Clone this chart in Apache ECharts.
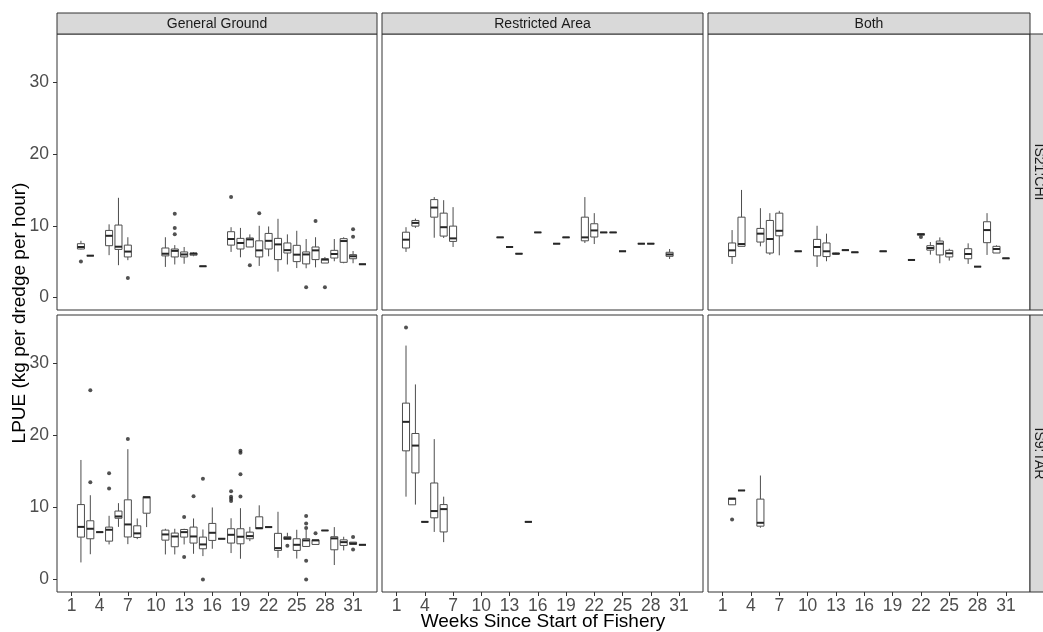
<!DOCTYPE html>
<html>
<head>
<meta charset="utf-8">
<script src="https://cdn.jsdelivr.net/npm/echarts@6/dist/echarts.min.js"></script>
<style>
  html, body { margin: 0; padding: 0; background: #fff; }
  #chart { width: 1043px; height: 632px; }
</style>
</head>
<body>
<div id="chart"></div>
<script>
const FONT = "'Liberation Sans', Arial, sans-serif";

// axis ticks / facet labels
const weekTicks = [1, 4, 7, 10, 13, 16, 19, 22, 25, 28, 31];
const lpueTicks = [0, 10, 20, 30];
const areas = ["General Ground", "Restricted Area", "Both"];
const beds = ["IS21:CHI", "IS9:TAR"];

// boxes: [week, min, Q1, median, Q3, max]  (LPUE, kg per dredge per hour)
const chiGeneral = [
  [2, 6.7, 6.76, 7.04, 7.5, 7.9], [3, 5.83, 5.83, 5.83, 5.83, 5.83],
  [5, 5.9, 7.22, 8.6, 9.35, 10.2], [6, 4.5, 6.7, 7.08, 10.1, 13.9],
  [7, 5.2, 5.65, 6.4, 7.3, 8.4], [11, 4.26, 5.8, 6.1, 6.9, 8.4],
  [12, 4.6, 5.65, 6.5, 6.76, 7.3], [13, 4.7, 5.65, 6.0, 6.35, 7.04],
  [14, 5.75, 5.9, 6.1, 6.2, 6.3], [15, 4.35, 4.35, 4.35, 4.35, 4.35],
  [18, 6.35, 7.3, 8.15, 9.17, 9.8], [19, 5.6, 6.76, 7.6, 8.24, 9.7],
  [20, 7.04, 7.04, 8.1, 8.3, 8.8], [21, 4.4, 5.65, 6.57, 7.9, 10.0],
  [22, 5.74, 6.76, 7.9, 8.93, 9.9], [23, 3.6, 5.28, 7.4, 8.24, 10.97],
  [24, 4.6, 6.2, 6.6, 7.6, 8.8], [25, 4.1, 5.0, 5.97, 7.27, 9.3],
  [26, 4.07, 4.68, 6.0, 6.35, 8.15], [27, 4.2, 5.28, 6.57, 7.04, 8.4],
  [28, 4.8, 4.8, 5.28, 5.4, 5.65], [29, 5.05, 5.5, 6.06, 6.57, 8.15],
  [30, 4.77, 4.9, 7.87, 8.2, 8.4], [31, 4.77, 5.4, 5.74, 5.97, 6.48],
  [32, 4.63, 4.63, 4.63, 4.63, 4.63]
];
const chiGeneralOut = [
  [2, 5.0], [7, 2.7], [12, 11.67], [12, 9.7], [12, 8.8], [18, 14.0], [20, 4.5],
  [21, 11.76], [26, 1.43], [27, 10.65], [28, 1.43], [31, 9.5], [31, 8.47]
];

const chiRestricted = [
  [2, 6.35, 6.9, 8.06, 9.1, 9.8], [3, 9.7, 9.95, 10.4, 10.74, 11.0],
  [5, 8.33, 11.2, 12.54, 13.65, 14.0], [6, 8.3, 8.56, 9.8, 11.76, 13.57],
  [7, 7.04, 7.82, 8.24, 9.95, 12.6], [12, 8.38, 8.38, 8.38, 8.38, 8.38],
  [13, 7.04, 7.04, 7.04, 7.04, 7.04], [14, 6.1, 6.1, 6.1, 6.1, 6.1],
  [16, 9.07, 9.07, 9.07, 9.07, 9.07], [18, 7.5, 7.5, 7.5, 7.5, 7.5],
  [19, 8.38, 8.38, 8.38, 8.38, 8.38], [21, 7.6, 7.9, 8.38, 11.2, 14.0],
  [22, 7.45, 8.43, 9.35, 10.28, 11.76], [23, 9.07, 9.07, 9.07, 9.07, 9.07],
  [24, 9.07, 9.07, 9.07, 9.07, 9.07], [25, 6.44, 6.44, 6.44, 6.44, 6.44],
  [27, 7.5, 7.5, 7.5, 7.5, 7.5], [28, 7.5, 7.5, 7.5, 7.5, 7.5],
  [30, 5.37, 5.74, 6.0, 6.3, 6.76]
];
const chiRestrictedOut = [];

const chiBoth = [
  [2, 4.68, 5.7, 6.57, 7.6, 9.4], [3, 7.13, 7.13, 7.45, 11.2, 15.0],
  [5, 7.13, 7.73, 8.9, 9.63, 12.45], [6, 5.93, 6.2, 8.15, 10.74, 11.76],
  [7, 5.88, 8.6, 9.3, 11.76, 12.08], [9, 6.44, 6.44, 6.44, 6.44, 6.44],
  [11, 4.26, 5.8, 7.04, 8.1, 10.0], [12, 5.05, 5.7, 6.44, 7.6, 8.9],
  [13, 6.0, 6.05, 6.1, 6.2, 6.25], [14, 6.6, 6.6, 6.6, 6.6, 6.6],
  [15, 6.3, 6.3, 6.3, 6.3, 6.3], [18, 6.44, 6.44, 6.44, 6.44, 6.44],
  [21, 5.23, 5.23, 5.23, 5.23, 5.23], [22, 8.7, 8.7, 8.8, 8.9, 8.9],
  [23, 5.97, 6.6, 6.9, 7.22, 7.73], [24, 4.77, 5.93, 7.5, 7.87, 8.38],
  [25, 5.14, 5.65, 6.16, 6.57, 6.8], [27, 4.68, 5.4, 6.06, 6.8, 7.55],
  [28, 4.3, 4.3, 4.3, 4.3, 4.3], [29, 5.93, 7.64, 9.4, 10.56, 11.76],
  [30, 6.2, 6.2, 6.76, 7.13, 7.27], [31, 5.46, 5.46, 5.46, 5.46, 5.46]
];
const chiBothOut = [[22, 8.43]];

const tarGeneral = [
  [2, 2.36, 5.88, 7.3, 10.4, 16.6], [3, 3.5, 5.65, 7.04, 8.15, 11.7],
  [4, 6.57, 6.57, 6.57, 6.57, 6.57], [5, 4.86, 5.32, 6.9, 7.27, 8.84],
  [6, 7.3, 8.5, 8.75, 9.5, 10.6], [7, 4.9, 5.9, 7.64, 11.06, 18.1],
  [8, 5.6, 5.83, 6.4, 7.45, 8.47], [9, 7.27, 9.2, 11.4, 11.5, 11.5],
  [11, 3.47, 5.46, 6.25, 6.85, 7.04], [12, 3.47, 4.54, 5.97, 6.44, 7.04],
  [13, 4.86, 5.88, 6.57, 6.94, 7.04], [14, 3.56, 5.05, 5.97, 7.27, 8.47],
  [15, 3.24, 4.26, 4.86, 5.88, 6.94], [16, 4.26, 5.42, 6.48, 7.78, 10.0],
  [17, 5.65, 5.65, 5.65, 5.65, 5.65], [18, 3.66, 5.05, 6.2, 7.04, 8.5],
  [19, 2.87, 4.95, 5.93, 7.04, 9.9], [20, 5.32, 5.65, 6.02, 6.57, 7.3],
  [21, 7.04, 7.04, 7.13, 8.7, 10.3], [22, 7.27, 7.27, 7.27, 7.27, 7.27],
  [23, 3.0, 4.03, 4.35, 6.4, 9.4], [24, 5.56, 5.56, 5.74, 5.93, 6.48],
  [25, 2.9, 4.03, 4.81, 5.65, 6.9], [26, 4.58, 4.58, 5.42, 5.65, 6.94],
  [27, 4.86, 4.86, 5.42, 5.5, 5.5], [28, 6.8, 6.8, 6.8, 6.8, 6.8],
  [29, 2.0, 4.12, 5.7, 5.93, 7.27], [30, 4.03, 4.72, 5.18, 5.5, 5.93],
  [31, 4.86, 4.86, 5.0, 5.18, 5.18], [32, 4.81, 4.81, 4.81, 4.81, 4.81]
];
const tarGeneralOut = [
  [3, 13.5], [3, 26.3], [5, 14.77], [5, 12.64], [7, 19.5], [13, 8.66], [13, 3.1],
  [14, 11.57], [15, 14.0], [15, 0], [18, 12.27], [18, 11.5], [18, 11.2], [18, 10.9],
  [19, 17.87], [19, 17.6], [19, 14.63], [19, 11.53], [24, 4.68], [26, 8.8],
  [26, 7.78], [26, 7.13], [26, 2.6], [26, 0], [27, 6.4], [31, 5.88], [31, 4.17]
];

const tarRestricted = [
  [2, 11.5, 17.87, 21.9, 24.5, 32.5], [3, 10.4, 14.8, 18.6, 20.28, 27.1],
  [4, 8.0, 8.0, 8.0, 8.0, 8.0], [5, 6.6, 8.56, 9.5, 13.4, 19.5],
  [6, 5.18, 6.6, 9.77, 10.4, 11.5], [15, 8.0, 8.0, 8.0, 8.0, 8.0]
];
const tarRestrictedOut = [[2, 35.0]];

const tarBoth = [
  [2, 10.37, 10.37, 11.2, 11.3, 11.3], [3, 12.36, 12.36, 12.36, 12.36, 12.36],
  [5, 7.18, 7.4, 7.87, 11.16, 14.44]
];
const tarBothOut = [[2, 8.33]];

const panelBoxes = [chiGeneral, chiRestricted, chiBoth, tarGeneral, tarRestricted, tarBoth];
const panelOut = [chiGeneralOut, chiRestrictedOut, chiBothOut, tarGeneralOut, tarRestrictedOut, tarBothOut];

// facet layout (pixels)
const cols = [{ left: 57, width: 320 }, { left: 382, width: 321 }, { left: 708, width: 322 }];
const rows = [{ top: 34, height: 276 }, { top: 315, height: 277 }];
const HALF = 0.375; // half box width in weeks

function renderBox(params, api) {
  const wk = api.value(0);
  const left = api.coord([wk - HALF, 0])[0];
  const right = api.coord([wk + HALF, 0])[0];
  const mid = api.coord([wk, 0])[0];
  const y = k => api.coord([wk, api.value(k)])[1];
  const yMin = y(1), yQ1 = y(2), yMed = y(3), yQ3 = y(4), yMax = y(5);
  const line = { stroke: "#4d4d4d", lineWidth: 1 };
  return {
    type: "group",
    children: [
      { type: "line", shape: { x1: mid, y1: yMax, x2: mid, y2: yQ3 }, style: line },
      { type: "line", shape: { x1: mid, y1: yQ1, x2: mid, y2: yMin }, style: line },
      { type: "rect", shape: { x: left, y: yQ3, width: right - left, height: yQ1 - yQ3 },
        style: { fill: "#fff", stroke: "#4d4d4d", lineWidth: 1 } },
      { type: "line", shape: { x1: left, y1: yMed, x2: right, y2: yMed },
        style: { stroke: "#262626", lineWidth: 2 } }
    ]
  };
}

const grid = [], xAxis = [], yAxis = [], series = [];
rows.forEach((r, ri) => {
  cols.forEach((c, ci) => {
    const i = ri * 3 + ci;
    grid.push({
      left: c.left, top: r.top, width: c.width, height: r.height,
      show: true, backgroundColor: "#fff", borderColor: "#333", borderWidth: 1
    });
    xAxis.push({
      gridIndex: i, type: "value", min: -0.55, max: 33.55,
      splitLine: { show: false },
      axisLine: { show: false, onZero: false },
      axisTick: { show: ri === 1, customValues: weekTicks, length: 4, lineStyle: { color: "#333" } },
      axisLabel: { show: ri === 1, customValues: weekTicks, fontSize: 17.5, color: "#4d4d4d",
                   margin: 5, fontFamily: FONT }
    });
    yAxis.push({
      gridIndex: i, type: "value", min: -1.75, max: 36.75,
      splitLine: { show: false },
      axisLine: { show: false, onZero: false },
      axisTick: { show: ci === 0, customValues: lpueTicks, length: 4, lineStyle: { color: "#333" } },
      axisLabel: { show: ci === 0, customValues: lpueTicks, fontSize: 17.5, color: "#4d4d4d",
                   margin: 8, fontFamily: FONT }
    });
    series.push({
      type: "custom", xAxisIndex: i, yAxisIndex: i, silent: true,
      renderItem: renderBox, encode: { x: 0, y: [1, 2, 3, 4, 5] },
      data: panelBoxes[i]
    });
    series.push({
      type: "scatter", xAxisIndex: i, yAxisIndex: i, silent: true,
      symbolSize: 4, itemStyle: { color: "#262626" }, z: 1,
      data: panelOut[i]
    });
  });
});

const graphic = [];
areas.forEach((a, ci) => {
  graphic.push({
    type: "rect", shape: { x: cols[ci].left, y: 13, width: cols[ci].width, height: 21 },
    style: { fill: "#d9d9d9", stroke: "#333", lineWidth: 1 }
  });
  graphic.push({
    type: "text", x: cols[ci].left + cols[ci].width / 2, y: 24,
    style: { text: a, fontSize: 14, fill: "#1a1a1a", align: "center", verticalAlign: "middle", fontFamily: FONT }
  });
});
beds.forEach((b, ri) => {
  graphic.push({
    type: "rect", shape: { x: 1030, y: rows[ri].top, width: 30, height: rows[ri].height },
    style: { fill: "#d9d9d9", stroke: "#333", lineWidth: 1 }
  });
  graphic.push({
    type: "text", x: 1039, y: rows[ri].top + rows[ri].height / 2, rotation: -Math.PI / 2,
    style: { text: b, fontSize: 14, fill: "#1a1a1a", align: "center", verticalAlign: "middle", fontFamily: FONT }
  });
});
graphic.push({
  type: "text", x: 20, y: 313, rotation: Math.PI / 2,
  style: { text: "LPUE (kg per dredge per hour)", fontSize: 19, fill: "#000",
           align: "center", verticalAlign: "middle", fontFamily: FONT }
});
graphic.push({
  type: "text", x: 543, y: 622,
  style: { text: "Weeks Since Start of Fishery", fontSize: 19, fill: "#000",
           align: "center", verticalAlign: "middle", fontFamily: FONT }
});

const chart = echarts.init(document.getElementById("chart"));
chart.setOption({
  animation: false,
  backgroundColor: "#fff",
  grid, xAxis, yAxis, series, graphic
});
</script>
</body>
</html>
